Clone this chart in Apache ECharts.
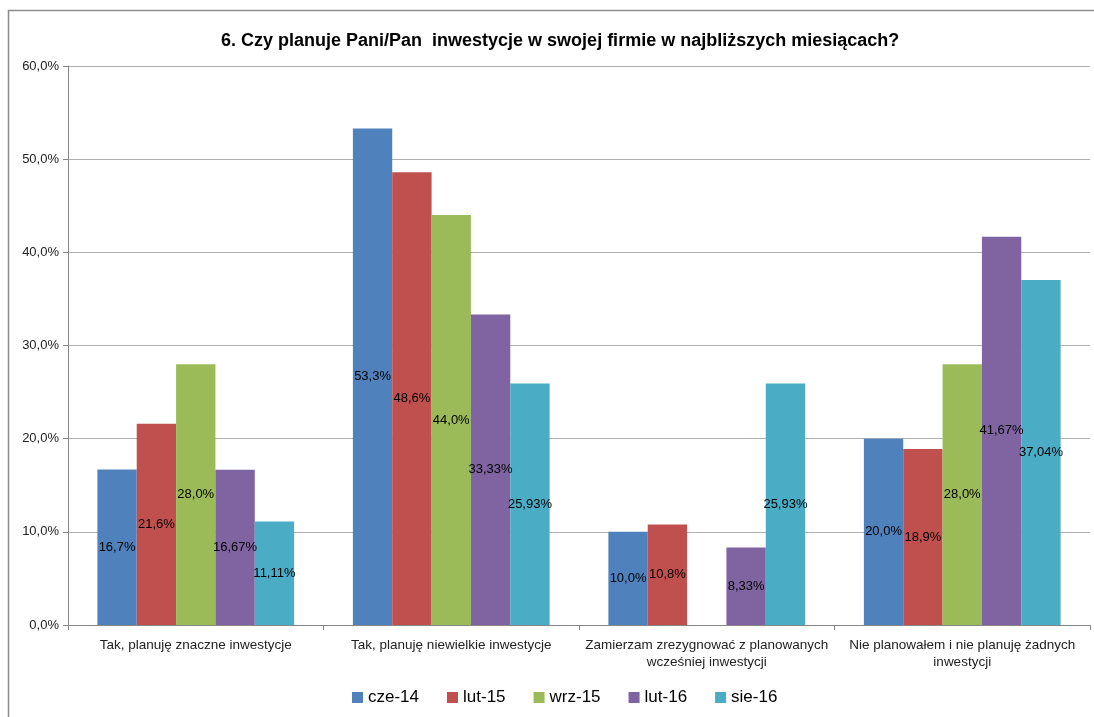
<!DOCTYPE html>
<html>
<head>
<meta charset="utf-8">
<script src="https://cdn.jsdelivr.net/npm/echarts@6/dist/echarts.min.js"></script>
<style>
  html, body { margin: 0; padding: 0; background: #fff; }
  #chart { width: 1094px; height: 717px; }
</style>
</head>
<body>
<div id="chart"></div>
<script>
// data (percent)
const categories = [
  'Tak, planuję znaczne inwestycje',
  'Tak, planuję niewielkie inwestycje',
  'Zamierzam zrezygnować z planowanych\nwcześniej inwestycji',
  'Nie planowałem i nie planuję żadnych\ninwestycji'
];
const seriesNames = ['cze-14', 'lut-15', 'wrz-15', 'lut-16', 'sie-16'];
const cze14 = [16.7, 53.3, 10.0, 20.0];
const lut15 = [21.6, 48.6, 10.8, 18.9];
const wrz15 = [28.0, 44.0, '-', 28.0];
const lut16 = [16.67, 33.33, 8.33, 41.67];
const sie16 = [11.11, 25.93, 25.93, 37.04];
const labelDecimals = [1, 1, 1, 2, 2];
const yTicks = { min: 0, max: 60, interval: 10 };

const colors = ['#4F81BD', '#C0504D', '#9BBB59', '#8064A2', '#4BACC6'];
const FONT = 'Liberation Sans';

const pct = (v, d) => v.toFixed(d).replace('.', ',') + '%';

const chart = echarts.init(document.getElementById('chart'), null, { renderer: 'canvas' });
chart.setOption({
  backgroundColor: '#fff',
  animation: false,
  color: colors,
  textStyle: { fontFamily: FONT },
  graphic: [{
    type: 'rect',
    shape: { x: 8.5, y: 10.5, width: 1100, height: 720 },
    style: { fill: 'none', stroke: '#8c8c8c', lineWidth: 1.5 },
    z: -1
  }],
  title: {
    text: '6. Czy planuje Pani/Pan  inwestycje w swojej firmie w najbliższych miesiącach?',
    left: 216,
    top: 27,
    textStyle: { fontFamily: FONT, fontWeight: 'bold', fontSize: 18, color: '#000' }
  },
  legend: {
    bottom: 6,
    left: 347,
    itemWidth: 11,
    itemHeight: 11,
    itemGap: 28,
    icon: 'rect',
    textStyle: { fontFamily: FONT, fontSize: 17, color: '#000' },
    data: seriesNames
  },
  grid: { left: 68, right: 4, top: 66, bottom: 92, containLabel: false },
  xAxis: {
    type: 'category',
    data: categories,
    axisLine: { lineStyle: { color: '#868686' } },
    axisTick: { show: true, length: 5, lineStyle: { color: '#868686' } },
    axisLabel: { interval: 0, margin: 12, fontSize: 13.5, lineHeight: 17, color: '#222', fontFamily: FONT }
  },
  yAxis: {
    type: 'value',
    min: yTicks.min,
    max: yTicks.max,
    interval: yTicks.interval,
    axisLine: { show: true, lineStyle: { color: '#868686' } },
    axisTick: { show: true, length: 5, lineStyle: { color: '#868686' } },
    splitLine: { lineStyle: { color: '#b0b0b0' } },
    axisLabel: { fontSize: 13, color: '#222', margin: 9, fontFamily: FONT, formatter: v => pct(v, 1) }
  },
  series: [cze14, lut15, wrz15, lut16, sie16].map((data, i) => ({
    name: seriesNames[i],
    type: 'bar',
    data,
    barGap: '0%',
    barCategoryGap: '23%',
    label: {
      show: true,
      position: 'inside',
      color: '#000',
      fontSize: 13,
      fontFamily: FONT,
      formatter: p => pct(p.value, labelDecimals[i])
    }
  }))
});
</script>
</body>
</html>
